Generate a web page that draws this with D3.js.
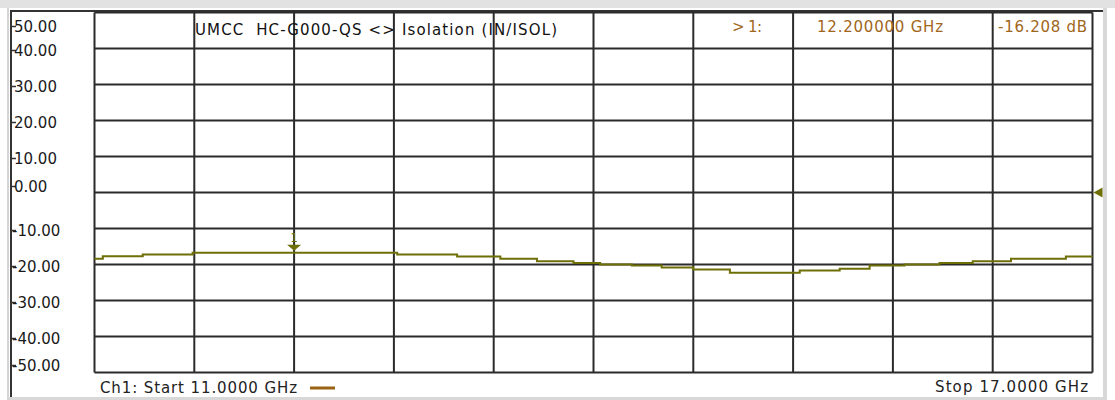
<!DOCTYPE html>
<html>
<head>
<meta charset="utf-8">
<script src="https://cdn.jsdelivr.net/npm/d3@7"></script>
<style>
  html, body { margin: 0; padding: 0; background: #ffffff; }
  svg { display: block; }
  text { font-family: "DejaVu Sans", Verdana, sans-serif; white-space: pre; }
</style>
</head>
<body>
<svg id="chart" width="1115" height="400"></svg>
<script>
// ---- data ----
const titleText = "UMCC  HC-G000-QS <> Isolation (IN/ISOL)";
const yTicks = [50, 40, 30, 20, 10, 0, -10, -20, -30, -40, -50];
const yTickLabels = ["50.00", "40.00", "30.00", "20.00", "10.00", "0.00", "-10.00", "-20.00", "-30.00", "-40.00", "-50.00"];
const xGridGHz = [11, 11.6, 12.2, 12.8, 13.4, 14, 14.6, 15.2, 15.8, 16.4, 17];
// stepped trace: segment start frequency (GHz) and level (dB)
const traceGHz = [11.00, 11.05, 11.29, 11.59, 12.82, 13.18, 13.44, 13.66, 13.88, 14.04, 14.23, 14.41, 14.60, 14.82, 15.24, 15.48, 15.66, 15.87, 16.08, 16.28, 16.51, 16.84, 17.00];
const traceDb  = [-18.4, -17.7, -17.2, -16.75, -17.2, -17.8, -18.4, -19.1, -19.6, -20.0, -20.3, -20.8, -21.4, -22.3, -21.7, -21.2, -20.3, -20.0, -19.6, -19.1, -18.4, -17.8, -17.8];
const markerGHz = 12.2;
const markerDb = -16.208;
const markerLabels = ["> 1:", "12.200000 GHz", "-16.208 dB"];
const refLevelDb = 0;
const startLabel = "Ch1: Start 11.0000 GHz";
const stopLabel = "Stop 17.0000 GHz";

// ---- layout ----
const svg = d3.select("#chart");
const L = 94.5, R = 1092.5, T = 12.5, B = 372.5;
const x = d3.scaleLinear().domain([11, 17]).range([L, R]);
const y = d3.scaleLinear().domain([-50, 50]).range([B, T]);

const gridColor = "#2b2b2b";
const traceColor = "#6f6f08";
const markColor = "#a0661c";

// window frame
svg.append("rect").attr("x", 0).attr("y", 0).attr("width", 1115).attr("height", 8).attr("fill", "#e2e2e2");
svg.append("rect").attr("x", 7).attr("y", 8).attr("width", 2).attr("height", 392).attr("fill", "#d4d4d4");
svg.append("rect").attr("x", 1103).attr("y", 8).attr("width", 4).attr("height", 392).attr("fill", "#d8d8d8");
svg.append("rect").attr("x", 9).attr("y", 397).attr("width", 1098).attr("height", 3).attr("fill", "#d8d8d8");
svg.append("line").attr("x1", 10).attr("x2", 1103).attr("y1", 11).attr("y2", 11).attr("stroke", "#333").attr("stroke-width", 2);
svg.append("line").attr("x1", 11).attr("x2", 11).attr("y1", 10).attr("y2", 397).attr("stroke", "#333").attr("stroke-width", 2);

// grid
const g = svg.append("g");
g.selectAll("line.v").data(xGridGHz).join("line")
  .attr("x1", d => x(d)).attr("x2", d => x(d))
  .attr("y1", T).attr("y2", B)
  .attr("stroke", gridColor).attr("stroke-width", 2);
g.selectAll("line.h").data(yTicks).join("line")
  .attr("x1", L).attr("x2", R)
  .attr("y1", d => y(d)).attr("y2", d => y(d))
  .attr("stroke", gridColor).attr("stroke-width", 2);

// y labels with small ticks on the outer left border
const labelY = (d, i) => {
  if (i === 0) return T + 14;
  if (i === yTicks.length - 1) return B - 7;
  if (d === 0) return y(d) - 6;
  return y(d) + 2;
};
svg.selectAll("line.yt").data(yTicks).join("line")
  .attr("x1", 11).attr("x2", 16)
  .attr("y1", (d, i) => labelY(d, i)).attr("y2", (d, i) => labelY(d, i))
  .attr("stroke", "#333").attr("stroke-width", 1.5);
svg.selectAll("text.yl").data(yTicks).join("text")
  .attr("x", d => d < 0 ? 12 : 14)
  .attr("y", (d, i) => labelY(d, i))
  .attr("dy", "0.36em")
  .attr("font-size", 15)
  .attr("fill", "#1a1a1a")
  .text((d, i) => yTickLabels[i]);

// title
svg.append("text").attr("x", 195).attr("y", 30).attr("dy", "0.36em")
  .attr("font-size", 15).attr("fill", "#111")
  .attr("textLength", 362).attr("lengthAdjust", "spacing")
  .text(titleText);

// marker readout
const mrk = [[732, 30], [817, 126], [998, 89]];
svg.selectAll("text.mr").data(markerLabels).join("text")
  .attr("x", (d, i) => mrk[i][0]).attr("y", 27).attr("dy", "0.36em")
  .attr("font-size", 15).attr("fill", markColor)
  .attr("textLength", (d, i) => mrk[i][1]).attr("lengthAdjust", "spacing")
  .text(d => d);

// trace
const line = d3.line().x(d => x(d[0])).y(d => y(d[1])).curve(d3.curveStepAfter);
svg.append("path")
  .datum(traceGHz.map((f, i) => [f, traceDb[i]]))
  .attr("d", line)
  .attr("fill", "none").attr("stroke", traceColor).attr("stroke-width", 2);

// marker 1 on trace
const mx = x(markerGHz), my = y(-16.75) - 2;
svg.append("path")
  .attr("d", `M${mx - 7},${my - 6} L${mx + 7},${my - 6} L${mx},${my} Z`)
  .attr("fill", traceColor);
svg.append("text").attr("x", mx).attr("y", my - 13).attr("dy", "0.36em")
  .attr("text-anchor", "middle").attr("font-size", 12).attr("fill", traceColor).text("1");

// reference level marker on the right
const ry = y(refLevelDb);
svg.append("path")
  .attr("d", `M${R + 1},${ry} L${R + 10},${ry - 5} L${R + 10},${ry + 5} Z`)
  .attr("fill", traceColor);

// bottom labels
svg.append("text").attr("x", 100).attr("y", 388).attr("dy", "0.36em")
  .attr("font-size", 15).attr("fill", "#222")
  .attr("textLength", 197).attr("lengthAdjust", "spacing")
  .text(startLabel);
svg.append("line").attr("x1", 310).attr("x2", 335).attr("y1", 388).attr("y2", 388)
  .attr("stroke", "#9a6212").attr("stroke-width", 3);
svg.append("text").attr("x", 935).attr("y", 387).attr("dy", "0.36em")
  .attr("font-size", 15).attr("fill", "#222")
  .attr("textLength", 153).attr("lengthAdjust", "spacing")
  .text(stopLabel);
</script>
</body>
</html>
